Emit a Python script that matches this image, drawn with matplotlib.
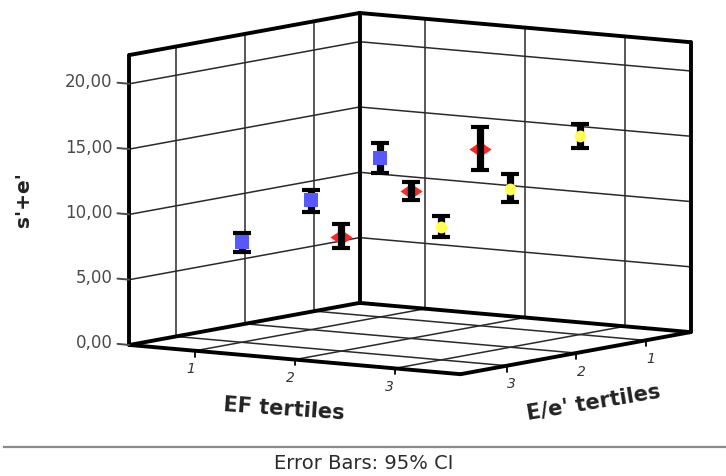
import matplotlib
matplotlib.use('Agg')
import matplotlib.pyplot as plt
from matplotlib.lines import Line2D
from mpl_toolkits.mplot3d import proj3d

# data: mean s'+e' with 95% CI, by EF tertile and E/e' tertile
ef_tertile = [1, 1, 1, 2, 2, 2, 3, 3, 3]
ee_tertile = [1, 2, 3, 1, 2, 3, 1, 2, 3]
mean_se = [12.2, 9.9, 7.7, 13.5, 11.3, 8.75, 15.2, 12.1, 10.2]
ci_low = [11.0, 9.0, 6.9, 11.9, 10.6, 7.9, 14.3, 11.1, 9.4]
ci_high = [13.3, 10.7, 8.4, 15.2, 12.0, 9.7, 16.1, 13.3, 11.0]

ef_levels = [1, 2, 3]
ee_levels = [1, 2, 3]
marker_colors = ['#5858ff', '#ff2626', '#ffff55']
# flat diamond for the middle tertile
flat_diamond = [(-1, 0), (0, 0.68), (1, 0), (0, -0.68), (-1, 0)]
marker_shapes = ['s', flat_diamond, 'o']
marker_sizes = [9.5, 16, 8.5]
marker_layer = [4, 2.5, 4]
z_ticks = [0, 5, 10, 15, 20]
z_ticklabels = ['0,00', '5,00', '10,00', '15,00', '20,00']
cat_labels = ['1', '2', '3']

# axis ranges (x = E/e', y = EF, z = s'+e')
xlo, xhi = 0.35, 3.67
ylo, yhi = 0.34, 3.66
zlo, zhi = 0.0, 22.2

fig = plt.figure(figsize=(7.26, 4.76), dpi=100)
ax = fig.add_axes([0.1248, -0.0777, 0.8567, 1.3067], projection='3d',
                  proj_type='ortho', computed_zorder=False)
ax.set_xlim(xlo, xhi)
ax.set_ylim(ylo, yhi)
ax.set_zlim(zlo, zhi)
ax.set_xticks([])
ax.set_yticks([])
ax.set_zticks([])
ax.set_box_aspect((1, 1, 0.725))
ax.view_init(elev=7.3, azim=34.8)
ax.set_axis_off()
M = ax.get_proj()

thick = 2.8
thin = 1.1
gcol = '#2a2a2a'
tcol = '#4a4a4a'


def seg(p, q, lw=thin, col=gcol, z=1):
    ax.plot([p[0], q[0]], [p[1], q[1]], [p[2], q[2]], color=col, lw=lw,
            solid_capstyle='round', zorder=z)


def label(x, y, z, s, **kw):
    # place a flat 2D label at the projected 3D position
    px, py, _ = proj3d.proj_transform(x, y, z, M)
    ax.text2D(px, py, s, transform=ax.transData, **kw)


# grid on the walls and floor
for z in z_ticks[1:]:
    seg((xlo, ylo, z), (xhi, ylo, z))
    seg((xlo, ylo, z), (xlo, yhi, z))
for v in ee_levels:
    seg((v, ylo, zlo), (v, ylo, zhi))
    seg((v, ylo, zlo), (v, yhi, zlo))
for v in ef_levels:
    seg((xlo, v, zlo), (xlo, v, zhi))
    seg((xlo, v, zlo), (xhi, v, zlo))

# box outline
for p, q in [((xlo, ylo, zlo), (xhi, ylo, zlo)), ((xlo, ylo, zhi), (xhi, ylo, zhi)),
             ((xhi, ylo, zlo), (xhi, ylo, zhi)), ((xlo, ylo, zlo), (xlo, ylo, zhi)),
             ((xlo, ylo, zlo), (xlo, yhi, zlo)), ((xlo, ylo, zhi), (xlo, yhi, zhi)),
             ((xlo, yhi, zlo), (xlo, yhi, zhi)),
             ((xhi, ylo, zlo), (xhi, yhi, zlo)), ((xhi, yhi, zlo), (xlo, yhi, zlo))]:
    seg(p, q, lw=thick, col='black', z=2)

# z ticks on the left edge
for z, lab in zip(z_ticks, z_ticklabels):
    seg((xhi, ylo, z), (xhi, ylo - 0.12, z), lw=1.4, col=tcol, z=2)
    label(xhi, ylo - 0.17, z, lab, ha='right', va='center', fontsize=12,
          color=tcol)

# category ticks on the floor edges
for v, lab in zip(ef_levels, cat_labels):
    seg((xhi, v, zlo), (xhi, v, zlo - 0.45), lw=1.3, col='black', z=2)
    label(xhi + 0.07, v, zlo - 1.35, lab, ha='center', va='center',
          fontsize=10, style='italic', color='#333333')
for v, lab in zip(ee_levels, cat_labels):
    seg((v, yhi, zlo), (v, yhi, zlo - 0.45), lw=1.3, col='black', z=2)
    label(v, yhi + 0.05, zlo - 1.4, lab, ha='center', va='center',
          fontsize=10, style='italic', color='#333333')

# error bars
err_lo = [m - lo for m, lo in zip(mean_se, ci_low)]
err_hi = [hi - m for m, hi in zip(mean_se, ci_high)]
ax.errorbar(ee_tertile, ef_tertile, mean_se, zerr=[err_lo, err_hi], fmt='none',
            ecolor='black', elinewidth=5.2, capsize=6.5, capthick=3, zorder=3)

# markers, one colour per EF tertile
for lev, col, shp, ms, zo in zip(ef_levels, marker_colors, marker_shapes,
                                 marker_sizes, marker_layer):
    xs = [e for e, f in zip(ee_tertile, ef_tertile) if f == lev]
    ys = [f for f in ef_tertile if f == lev]
    zs = [m for m, f in zip(mean_se, ef_tertile) if f == lev]
    ax.plot(xs, ys, zs, linestyle='none', marker=shp, color=col,
            markersize=ms, markeredgewidth=0, zorder=zo)

# axis titles
fig.text(0.391, 0.141, 'EF tertiles', ha='center', va='center', fontsize=15,
         fontweight='bold', rotation=-4, color='#222222')
fig.text(0.817, 0.155, "E/e' tertiles", ha='center', va='center', fontsize=15,
         fontweight='bold', rotation=9.5, color='#222222')
fig.text(0.033, 0.58, "s'+e'", ha='center', va='center', fontsize=14.5,
         fontweight='bold', rotation=90, color='#222222')

# footer
fig.add_artist(Line2D([0.005, 1.0], [0.061, 0.061], transform=fig.transFigure,
                      color='#8a8a8a', lw=1.6))
fig.text(0.501, 0.027, 'Error Bars: 95% CI', ha='center', va='center',
         fontsize=14, color='#2b2b2b')

fig.savefig('out.png', dpi=100)
